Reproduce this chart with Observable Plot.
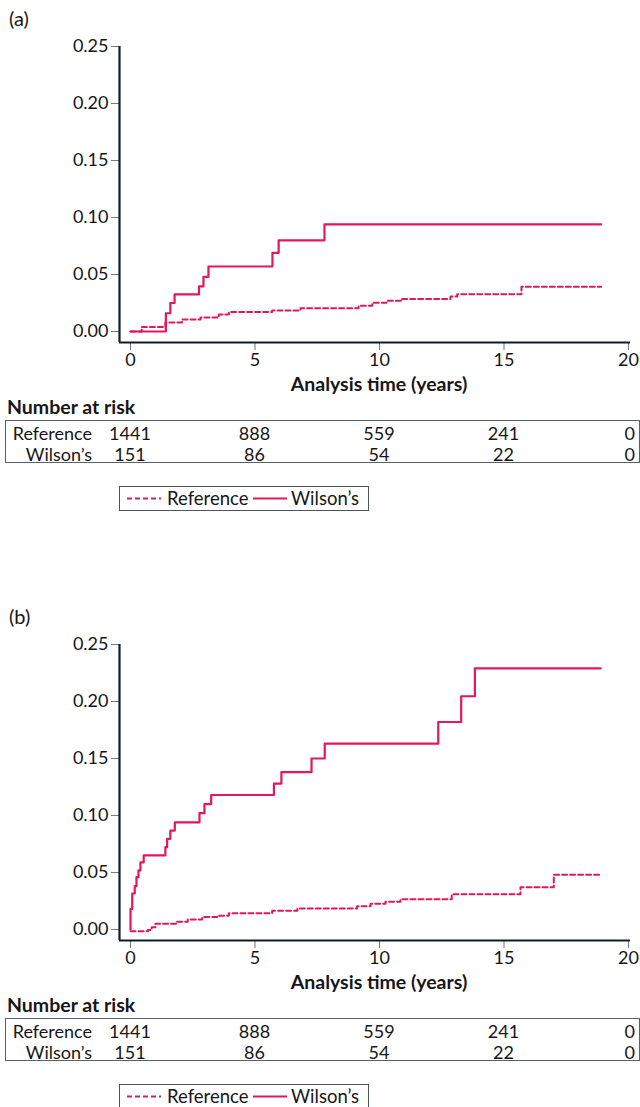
<!DOCTYPE html>
<html>
<head>
<meta charset="utf-8">
<script src="https://cdn.jsdelivr.net/npm/d3@7"></script>
<script src="https://cdn.jsdelivr.net/npm/@observablehq/plot@0.6"></script>
<style>
  body { margin: 0; background: #fff; }
  #root { position: relative; width: 640px; height: 1107px; overflow: hidden; font-family: Lato, "Noto Sans", sans-serif; color: #1b1b1b; }
  .abs { position: absolute; white-space: nowrap; line-height: 20px; }
  .plotwrap { position: absolute; left: 0; }
  .tbl { position: absolute; border: 1px solid #56616b; box-sizing: border-box; }
  .leg { position: absolute; border: 1px solid #4a5560; box-sizing: border-box; }
</style>
</head>
<body>
<div id="root"></div>
<script>
// ---------- data ----------
const panelLabels = ["(a)", "(b)"];
const timeTicks = [0, 5, 10, 15, 20];
const yTicks = [0, 0.05, 0.10, 0.15, 0.20, 0.25];
const groupNames = ["Reference", "Wilson\u2019s"];
const riskReference = [1441, 888, 559, 241, 0];
const riskWilsons = [151, 86, 54, 22, 0];
const xTitle = "Analysis time (years)";
const riskTitle = "Number at risk";

// Panel (a)
const aRefTime = [0, 0.45, 1.4, 2.07, 2.81, 3.55, 3.95, 5.69, 6.83, 9.16, 9.71, 10.28, 10.91, 12.85, 13.12, 15.7, 18.9];
const aRefValue = [0, 0.004, 0.008, 0.0105, 0.0123, 0.015, 0.017, 0.0184, 0.0205, 0.0225, 0.0252, 0.0269, 0.0284, 0.0307, 0.0327, 0.0392, 0.0392];
const aWilTime = [0, 1.42, 1.6, 1.77, 2.75, 2.93, 3.13, 5.7, 5.95, 7.79, 18.9];
const aWilValue = [0, 0.016, 0.025, 0.0325, 0.0395, 0.048, 0.057, 0.069, 0.080, 0.094, 0.094];

// Panel (b)
const bRefTime = [0, 0.5, 0.7, 0.85, 1.0, 1.87, 2.3, 2.88, 3.48, 3.95, 5.69, 6.7, 9.1, 9.64, 10.24, 10.84, 12.9, 15.66, 17.0, 18.88];
const bRefValue = [-0.0015, -0.0015, -0.0005, 0.002, 0.005, 0.0067, 0.0088, 0.011, 0.012, 0.0143, 0.0164, 0.0184, 0.0204, 0.0225, 0.0243, 0.0266, 0.031, 0.0371, 0.048, 0.048];
const bWilTime = [0, 0, 0.07, 0.17, 0.24, 0.32, 0.4, 0.53, 1.4, 1.47, 1.6, 1.78, 2.77, 2.97, 3.24, 5.76, 6.06, 7.27, 7.8, 12.36, 13.28, 13.83, 18.88];
const bWilValue = [0, 0.018, 0.0316, 0.038, 0.0459, 0.0518, 0.0588, 0.065, 0.0722, 0.0795, 0.0868, 0.094, 0.102, 0.110, 0.118, 0.128, 0.138, 0.150, 0.163, 0.182, 0.2046, 0.229, 0.229];

// ---------- styles ----------
const LINE = "#e5175a";
const AXIS = "#0e1d29";
const TICK = "#6a7a86";
const TXT = "#161616";

const root = document.getElementById("root");

function el(tag, cls, css, text) {
  const e = document.createElement(tag);
  if (cls) e.className = cls;
  Object.assign(e.style, css || {});
  if (text != null) e.textContent = text;
  return e;
}

function panel(top, label, refT, refV, wilT, wilV) {
  const refData = refT.map((t, i) => ({t, v: refV[i]}));
  const wilData = wilT.map((t, i) => ({t, v: wilV[i]}));
  const xMin = -0.442, yMin = -0.00965;

  const chart = Plot.plot({
    width: 640,
    height: 400,
    marginTop: 46,
    marginBottom: 58,
    marginLeft: 119,
    marginRight: 10,
    style: {fontFamily: "Lato, 'Noto Sans', sans-serif", fontSize: "18px", background: "transparent", color: TXT},
    x: {domain: [xMin, 20.08]},
    y: {domain: [yMin, 0.25]},
    marks: [
      Plot.axisY({ticks: yTicks, tickFormat: d3.format(".2f"), tickSize: 8, tickPadding: 3, stroke: TICK, fill: TXT, label: null, fontSize: 18}),
      Plot.axisX({ticks: timeTicks, tickFormat: d3.format("d"), tickSize: 8, tickPadding: 3, stroke: TICK, fill: TXT, label: null, fontSize: 18}),
      Plot.ruleX([xMin], {stroke: AXIS, strokeWidth: 2.2}),
      Plot.ruleY([yMin], {stroke: AXIS, strokeWidth: 2.2}),
      Plot.line(refData, {x: "t", y: "v", curve: "step-after", stroke: LINE, strokeWidth: 2, strokeDasharray: "5,3"}),
      Plot.line(wilData, {x: "t", y: "v", curve: "step-after", stroke: LINE, strokeWidth: 2.2})
    ]
  });
  const x = chart.scale("x");

  const wrap = el("div", "plotwrap", {top: top + "px"});
  wrap.appendChild(chart);
  root.appendChild(wrap);

  // panel label
  root.appendChild(el("div", "abs", {left: "9px", top: (top + 8) + "px", fontSize: "20px", color: TXT}, label));

  // x-axis title
  root.appendChild(el("div", "abs", {left: x.apply(10) + "px", top: (top + 374) + "px", fontSize: "19.5px", fontWeight: "bold", color: TXT, transform: "translateX(-50%)"}, xTitle));

  // number at risk
  root.appendChild(el("div", "abs", {left: "7px", top: (top + 397) + "px", fontSize: "19.5px", fontWeight: "bold", color: TXT}, riskTitle));
  root.appendChild(el("div", "tbl", {left: "5px", top: (top + 420) + "px", width: "635px", height: "43px"}));
  const rows = [riskReference, riskWilsons];
  rows.forEach((vals, r) => {
    const rowTop = top + 423 + r * 21;
    root.appendChild(el("div", "abs", {left: "0px", width: "92px", textAlign: "right", top: rowTop + "px", fontSize: "18px", color: TXT}, groupNames[r]));
    vals.forEach((n, i) => {
      const last = i === vals.length - 1;
      const css = {top: rowTop + "px", fontSize: "18px", color: TXT};
      if (last) { css.right = (640 - (x.apply(timeTicks[i]) + 7)) + "px"; }
      else { css.left = x.apply(timeTicks[i]) + "px"; css.transform = "translateX(-50%)"; }
      root.appendChild(el("div", "abs", css, String(n)));
    });
  });

  // legend
  const leg = el("div", "leg", {left: "119px", top: (top + 486) + "px", width: "250px", height: "25px"});
  root.appendChild(leg);
  const ns = "http://www.w3.org/2000/svg";
  const svg = document.createElementNS(ns, "svg");
  svg.setAttribute("width", "250"); svg.setAttribute("height", "25");
  svg.style.position = "absolute"; svg.style.left = "0"; svg.style.top = "0";
  [[7, 41, "5,3"], [133, 167, null]].forEach(([x1, x2, dash]) => {
    const l = document.createElementNS(ns, "line");
    l.setAttribute("x1", x1); l.setAttribute("x2", x2);
    l.setAttribute("y1", 11.5); l.setAttribute("y2", 11.5);
    l.setAttribute("stroke", LINE); l.setAttribute("stroke-width", dash ? 2 : 2.2);
    if (dash) l.setAttribute("stroke-dasharray", dash);
    svg.appendChild(l);
  });
  leg.appendChild(svg);
  leg.appendChild(el("div", "abs", {left: "47px", top: "1px", fontSize: "18.5px", color: TXT}, groupNames[0]));
  leg.appendChild(el("div", "abs", {left: "171px", top: "1px", fontSize: "18.5px", color: TXT}, groupNames[1]));
}

panel(0, panelLabels[0], aRefTime, aRefValue, aWilTime, aWilValue);
panel(598, panelLabels[1], bRefTime, bRefValue, bWilTime, bWilValue);
</script>
</body>
</html>
